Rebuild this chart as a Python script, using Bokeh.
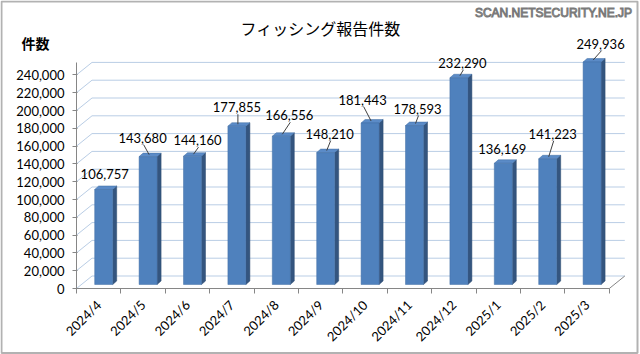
import math
from bokeh.plotting import figure
from bokeh.models import Range1d, FixedTicker, BoxAnnotation, Label, NumeralTickFormatter
from bokeh.core.properties import value
from bokeh.embed import file_html
from bokeh.resources import INLINE

# ---------------- data ----------------
months = ["2024/4", "2024/5", "2024/6", "2024/7", "2024/8", "2024/9",
          "2024/10", "2024/11", "2024/12", "2025/1", "2025/2", "2025/3"]
counts = [106757, 143680, 144160, 177855, 166556, 148210,
          181443, 178593, 232290, 136169, 141223, 249936]
y_ticks = [0, 20000, 40000, 60000, 80000, 100000, 120000,
           140000, 160000, 180000, 200000, 220000, 240000]
title_text = "フィッシング報告件数"
y_title = "件数"
credit = "SCAN.NETSECURITY.NE.JP"

# ---------------- layout (pixels) ----------------
W, H = 640, 354
AX_X, AX_Y = 76, 288                        # pixel position of the axes corner
CAT_PX = 44.4                               # pixels per category
PX_PER_STEP = 17.8                          # pixels per 20,000
STEP = 20000
WALL_DX, WALL_DY = 15.5, 12.5               # 3-D wall depth
BAR_OX, BAR_OY = 5.0, 4.0                   # bar offset into depth
BAR_W = 18.0                                # bar front width
BAR_DX, BAR_DY = 4.0, 3.5                   # bar depth
# label offsets relative to bar top centre (px, +x right, +y down)
label_off = [(1, -15), (-5.5, -19), (5, -16), (0, -19), (8, -21), (4, -19),
             (-7.5, -23.5), (3, -17), (3.5, -15), (-1, -14), (5, -25), (8.5, -18.5)]
has_leader = [False, True, True, True, True, True, True, True, True, False, True, True]

def dx(px):
    return px / CAT_PX

def dy(px):
    return px * STEP / PX_PER_STEP

def X(px):
    return (px - AX_X) / CAT_PX

def Y(py):
    return (AX_Y - py) * STEP / PX_PER_STEP

n = len(months)

p = figure(width=W, height=H, x_range=Range1d(X(0), X(W)), y_range=Range1d(Y(H), Y(0)),
           output_backend="svg", toolbar_location=None,
           min_border=0, min_border_left=0, min_border_right=0,
           min_border_top=0, min_border_bottom=0)
p.xgrid.visible = False
p.ygrid.visible = False
p.outline_line_color = None
p.background_fill_color = "white"
p.border_fill_color = "white"

AXIS_COL = "#868686"
GRID_COL = "#B9CDE5"
NUM_FONT = "Lato"

# ---------------- walls / gridlines ----------------
gx0, gy0, gx1, gy1 = [], [], [], []
for t in y_ticks:
    gx0.append(0); gy0.append(t)
    gx1.append(dx(WALL_DX)); gy1.append(t + dy(WALL_DY))
    gx0.append(dx(WALL_DX)); gy0.append(t + dy(WALL_DY))
    gx1.append(n + dx(WALL_DX)); gy1.append(t + dy(WALL_DY))
p.segment(gx0, gy0, gx1, gy1, line_color=GRID_COL, line_width=1)
p.segment([n], [0], [n + dx(WALL_DX)], [dy(WALL_DY)], line_color=AXIS_COL, line_width=1)

# ---------------- bars ----------------
fl, fr, fb, ft = [], [], [], []
side_xs, side_ys, top_xs, top_ys = [], [], [], []
for i, v in enumerate(counts):
    cx = i + 0.5 + dx(BAR_OX)
    x0, x1 = cx - dx(BAR_W / 2), cx + dx(BAR_W / 2)
    y0, y1 = dy(BAR_OY), v + dy(BAR_OY)
    fl.append(x0); fr.append(x1); fb.append(y0); ft.append(y1)
    side_xs.append([x1, x1 + dx(BAR_DX), x1 + dx(BAR_DX), x1])
    side_ys.append([y0, y0 + dy(BAR_DY), y1 + dy(BAR_DY), y1])
    top_xs.append([x0, x1, x1 + dx(BAR_DX), x0 + dx(BAR_DX)])
    top_ys.append([y1, y1, y1 + dy(BAR_DY), y1 + dy(BAR_DY)])
p.patches(side_xs, side_ys, fill_color="#34557F", line_color="#2C4A70", line_width=0.5)
p.patches(top_xs, top_ys, fill_color="#5B8BC7", line_color="#3F6CA3", line_width=0.5)
p.quad(left=fl, right=fr, bottom=fb, top=ft, fill_color="#4F81BD", line_color="#436FA5", line_width=0.5)

# ---------------- data labels + leaders ----------------
lx, ly, lt = [], [], []
sx0, sy0, sx1, sy1 = [], [], [], []
for i, v in enumerate(counts):
    cx = i + 0.5 + dx(BAR_OX)
    top = v + dy(BAR_OY)
    ox, oy = label_off[i]
    tx, ty = cx + dx(ox), top - dy(oy)
    lx.append(tx); ly.append(ty); lt.append(f"{v:,}")
    if has_leader[i]:
        sx0.append(cx + dx(1)); sy0.append(top + dy(2))
        sx1.append(tx + dx(1)); sy1.append(ty - dy(7))
p.segment(sx0, sy0, sx1, sy1, line_color="#404040", line_width=1)
p.text(lx, ly, text=lt, text_align="center", text_baseline="middle",
       text_font=value(NUM_FONT), text_font_size="13px", text_color="black")

# ---------------- axes ----------------
ya = p.yaxis[0]
ya.fixed_location = 0
ya.ticker = FixedTicker(ticks=y_ticks)
ya.formatter = NumeralTickFormatter(format="0,0")
ya.bounds = (0, Y(62))
ya.axis_line_color = AXIS_COL
ya.major_tick_line_color = AXIS_COL
ya.major_tick_out = 4
ya.major_tick_in = 1
ya.minor_tick_line_color = None
ya.major_label_standoff = 8
ya.major_label_text_font = NUM_FONT
ya.major_label_text_font_size = "13px"
ya.major_label_text_color = "black"

xa = p.xaxis[0]
xa.fixed_location = 0
centers = [i + 0.5 for i in range(n)]
xa.ticker = FixedTicker(ticks=centers, minor_ticks=list(range(n + 1)))
xa.major_label_overrides = {c: m for c, m in zip(centers, months)}
xa.bounds = (0, n)
xa.axis_line_color = AXIS_COL
xa.major_tick_line_color = None
xa.major_tick_out = 0
xa.major_tick_in = 0
xa.minor_tick_line_color = AXIS_COL
xa.minor_tick_out = 5
xa.minor_tick_in = 0
xa.major_label_orientation = math.pi / 4
xa.major_label_standoff = 9
xa.major_label_text_font = NUM_FONT
xa.major_label_text_font_size = "13px"
xa.major_label_text_color = "black"

# ---------------- texts ----------------
p.add_layout(Label(x=X(320), y=Y(27), text=title_text, text_align="center",
                   text_baseline="middle", text_font="Noto Sans CJK JP",
                   text_font_size="16px", text_color="black"))
p.add_layout(Label(x=X(35), y=Y(42), text=y_title, text_align="center",
                   text_baseline="middle", text_font="Noto Sans CJK JP",
                   text_font_size="14px", text_font_style="bold", text_color="black"))
p.add_layout(Label(x=X(553), y=Y(12.5), text=credit, text_align="center",
                   text_baseline="middle", text_font="Liberation Sans",
                   text_font_size="12px", text_color="#F2F2F2",
                   text_outline_color="#7A7A7A"))

# ---------------- border ----------------
p.add_layout(BoxAnnotation(left=X(1), right=X(637), top=Y(1), bottom=Y(352.5),
                           fill_alpha=0, fill_color=None, line_color="black",
                           line_width=2))

open("out.html", "w").write(file_html(p, INLINE))
